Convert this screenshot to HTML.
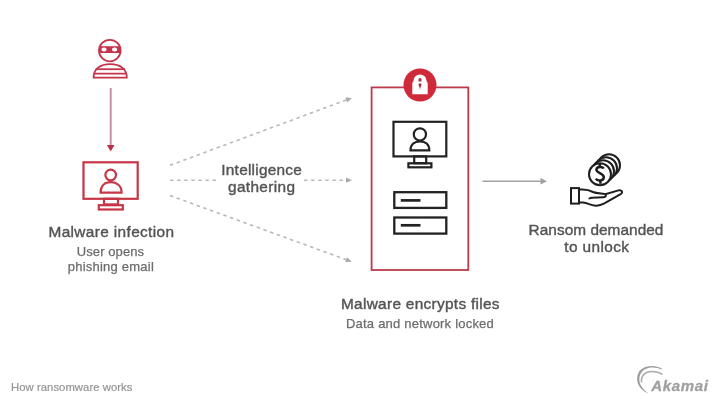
<!DOCTYPE html>
<html>
<head>
<meta charset="utf-8">
<style>
html,body{margin:0;padding:0;background:#fff;}
body{width:720px;height:404px;overflow:hidden;position:relative;font-family:"Liberation Sans",sans-serif;}
svg{position:absolute;left:0;top:0;filter:blur(0.5px);}
.t{font-family:"Liberation Sans",sans-serif;}
</style>
</head>
<body>
<svg width="720" height="404" viewBox="0 0 720 404">
  <defs>
    <marker id="ag" viewBox="0 0 10 10" refX="9" refY="5" markerWidth="7" markerHeight="7" markerUnits="userSpaceOnUse" orient="auto">
      <path d="M0,0 L10,5 L0,10 z" fill="#a8a8a8"/>
    </marker>
  </defs>

  <!-- Thief icon -->
  <g fill="none" stroke="#c5344a" stroke-width="1.8">
    <circle cx="109.8" cy="50.6" r="10.8"/>
    <path d="M93.6,77.7 C93.6,69 100,64.1 110.2,64.1 C120.4,64.1 126.8,69 126.8,77.7 Z"/>
    <line x1="95.5" y1="69.2" x2="125" y2="69.2"/>
    <line x1="93.6" y1="73.7" x2="126.8" y2="73.7"/>
  </g>
  <path d="M99.2,46.2 H120.4 V53 H99.2 Z" fill="#c5344a"/>
  <ellipse cx="104" cy="49.6" rx="2.6" ry="2" fill="#fff"/>
  <ellipse cx="114.6" cy="49.6" rx="2.6" ry="2" fill="#fff"/>

  <!-- arrow down -->
  <line x1="110.7" y1="88" x2="110.7" y2="146" stroke="#c9919d" stroke-width="2"/>
  <path d="M106.9,145 L114.5,145 L110.7,151.5 Z" fill="#b8304a"/>

  <!-- red monitor -->
  <g fill="none" stroke="#c73646" stroke-width="2.2">
    <rect x="83.5" y="162.3" width="54.2" height="36.5"/>
    <rect x="104" y="198.8" width="14" height="5.6"/>
    <rect x="98.8" y="205.2" width="24" height="4.3"/>
    <circle cx="110.7" cy="175" r="5.3"/>
    <path d="M100.6,192.6 C100.6,185.6 105,182.2 110.8,182.2 C116.6,182.2 121.6,185.6 121.6,192.6 Z"/>
  </g>

  <!-- dashed lines -->
  <g stroke="#b8b8b8" stroke-width="1.6" stroke-dasharray="3.4 3.7" fill="none">
    <line x1="170.0" y1="165.3" x2="346.27" y2="99.98"/>
    <line x1="304.0" y1="180.2" x2="346.00" y2="180.20"/>
    <line x1="170.0" y1="195.5" x2="346.06" y2="259.65"/>
    <line x1="170" y1="180.2" x2="217" y2="180.2"/>
  </g>
  <g fill="#a9a9a9">
    <path d="M351.90,97.90 L347.18,102.42 L345.37,97.55 Z"/>
    <path d="M352.00,180.20 L346.00,182.80 L346.00,177.60 Z"/>
    <path d="M351.70,261.70 L345.17,262.09 L346.95,257.20 Z"/>
  </g>

  <!-- red box -->
    <rect x="371.6" y="87.4" width="96.7" height="182.6" fill="none" stroke="#bb3a4c" stroke-width="1.8"/>
  <circle cx="420" cy="85" r="16.5" fill="#cf2a3a"/>
  <path d="M412.3,94.3 V83.4 Q412.3,82 413.4,81.6 V81 A6.6,6.6 0 0 1 426.6,81 V81.6 Q427.7,82 427.7,83.4 V94.3 Z" fill="#fff"/>
  <path d="M418.5,81.4 V79.6 A1.5,1.5 0 0 1 421.5,79.6 V81.4 Z" fill="#b8303f"/>
  <circle cx="420" cy="84.8" r="1.5" fill="#b02a3a"/>
  <path d="M418.9,85.2 L421.1,85.2 L420,89.6 Z" fill="#b02a3a"/>

  <!-- black monitor -->
  <g fill="none" stroke="#222" stroke-width="2.2">
    <rect x="393.5" y="121.8" width="52.8" height="34.6"/>
    <rect x="414.2" y="156.4" width="12" height="6.8"/>
    <rect x="408.4" y="163.3" width="23" height="4"/>
    <circle cx="419.9" cy="134.4" r="6.1"/>
    <path d="M410.5,150.3 C410.5,144.5 414.5,141.4 420,141.4 C425.5,141.4 429.3,144.5 429.3,150.3 Z"/>
  </g>
  <!-- drives -->
  <g fill="none" stroke="#222" stroke-width="2.3">
    <rect x="394.3" y="192.2" width="52" height="15.7"/>
    <rect x="394.3" y="217.5" width="52" height="16.1"/>
  </g>
  <line x1="400.8" y1="200.4" x2="420.5" y2="200.4" stroke="#222" stroke-width="2.7"/>
  <line x1="400.8" y1="225.3" x2="420.5" y2="225.3" stroke="#222" stroke-width="2.7"/>

  <!-- gray arrow -->
  <line x1="482.5" y1="181.3" x2="542" y2="181.3" stroke="#a3a3a3" stroke-width="1.5"/>
  <path d="M540.5,178 L547,181.3 L540.5,184.6 Z" fill="#a0a0a0"/>

  <!-- coins & hand -->
  <g fill="#fff" stroke="#1e1e1e" stroke-width="2">
    <circle cx="609" cy="165.3" r="11"/>
    <circle cx="606" cy="168.3" r="11"/>
    <circle cx="603" cy="171.3" r="11"/>
    <circle cx="600" cy="174.3" r="11"/>
  </g>
  <g fill="none" stroke="#1e1e1e" stroke-width="2.5">
    <path d="M603.6,168.6 C602.8,166.4 596.6,166 596.4,169.6 C596.2,173.2 603.8,173 603.8,177.2 C603.8,181 597.4,181.4 595.8,178.6"/>
    <line x1="599.8" y1="164" x2="599.8" y2="167"/>
    <line x1="600.4" y1="180.8" x2="600.4" y2="183.8"/>
  </g>
  <g fill="none" stroke="#1e1e1e" stroke-width="2">
    <rect x="571" y="188.1" width="8" height="15.5"/>
    <path d="M579.5,189.6 C584.5,189 589,189.8 593,192 C596,193.4 600,193.4 603.5,193.8 C606.8,194.3 606.5,197.2 603.3,197.2 L592,197.7 C590.3,197.8 589.3,198.5 589.3,199.2"/>
    <path d="M605.2,194.3 L618.5,190.4 C621.6,189.6 623.6,192.4 620.6,194.2 L607,201.8 C602,204.8 598,206 594.5,205.6 C590.5,205.2 587.5,203 583,202.6 L579.5,202.5"/>
  </g>

  <!-- texts -->
  <g class="t" fill="#545454" stroke="#545454" stroke-width="0.4" font-size="15.4">
    <text x="48.5" y="236.6" textLength="125.5" lengthAdjust="spacing">Malware infection</text>
    <text x="221.3" y="174.7" textLength="80.5" lengthAdjust="spacing">Intelligence</text>
    <text x="228" y="191.6" textLength="67" lengthAdjust="spacing">gathering</text>
    <text x="341" y="309.4" textLength="158.5" lengthAdjust="spacing">Malware encrypts files</text>
    <text x="528.6" y="234.8" textLength="134.8" lengthAdjust="spacing">Ransom demanded</text>
    <text x="564.2" y="251.6" textLength="64.8" lengthAdjust="spacing">to unlock</text>
  </g>
  <g class="t" fill="#6c6c6c" stroke="#6c6c6c" stroke-width="0.25" font-size="13">
    <text x="76.8" y="256.3" textLength="67.2" lengthAdjust="spacing">User opens</text>
    <text x="67.8" y="270.8" textLength="86" lengthAdjust="spacing">phishing email</text>
    <text x="346" y="328.4" textLength="147.8" lengthAdjust="spacing">Data and network locked</text>
  </g>
  <text class="t" x="11" y="390.6" fill="#959595" stroke="#959595" stroke-width="0.2" font-size="11.3" textLength="121.4" lengthAdjust="spacing">How ransomware works</text>

  <!-- akamai logo -->
  <path d="M661.7,368.3 C656,365 646.5,364.8 641,369.5 C636,374 635.8,382.5 640.5,388 C642.8,390.6 645.5,392.3 648.5,393.6 C645.8,391.6 642.2,388.6 640.4,384.6 C638.2,379.3 639.6,372.8 644.5,369.6 C649.5,366.6 656.5,367.1 661.7,369.6 Z" fill="#9e9e9e"/>
  <path d="M641.6,382.5 C640.6,376 645,371.7 651,371.4 C655.5,371.2 659.5,372.4 662.4,374.4" fill="none" stroke="#ababab" stroke-width="1.5"/>
  <text class="t" x="651.2" y="391.2" fill="#a0a0a0" stroke="#a0a0a0" stroke-width="0.3" font-size="15" font-weight="bold" font-style="italic" textLength="56.6" lengthAdjust="spacing">Akamai</text>
</svg>
</body>
</html>
